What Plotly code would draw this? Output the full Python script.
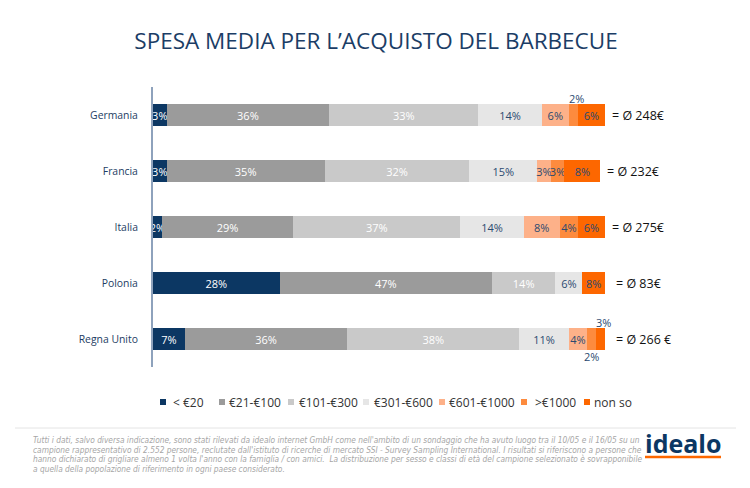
import plotly.graph_objects as go

# ---------------- data ----------------
countries = ["Germania", "Francia", "Italia", "Polonia", "Regna Unito"]
series = ["< €20", "€21-€100", "€101-€300", "€301-€600", "€601-€1000", ">€1000", "non so"]

lt20 = [3, 3, 2, 28, 7]
e21_100 = [36, 35, 29, 47, 36]
e101_300 = [33, 32, 37, 14, 38]
e301_600 = [14, 15, 14, 6, 11]
e601_1000 = [6, 3, 8, 0, 4]
gt1000 = [2, 3, 4, 0, 2]
non_so = [6, 8, 6, 5, 2]          # drawn bar widths
non_so_printed = [6, 8, 6, 8, 3]   # percentages printed on the picture

avg_labels = ["= Ø 248€", "= Ø 232€", "= Ø 275€", "= Ø 83€", "= Ø 266 €"]

footer_lines = [
    "Tutti i dati, salvo diversa indicazione, sono stati rilevati da idealo internet GmbH come nell'ambito di un sondaggio che ha avuto luogo tra il 10/05 e il 16/05 su un",
    "campione rappresentativo di 2.552 persone, reclutate dall'istituto di ricerche di mercato SSI - Survey Sampling International. I risultati si riferiscono a persone che",
    "hanno dichiarato di grigliare almeno 1 volta l'anno con la famiglia / con amici.  La distribuzione per sesso e classi di età del campione selezionato è sovrapponibile",
    "a quella della popolazione di riferimento in ogni paese considerato.",
]

values = [lt20, e21_100, e101_300, e301_600, e601_1000, gt1000, non_so]
printed = [lt20, e21_100, e101_300, e301_600, e601_1000, gt1000, non_so_printed]

# ---------------- style ----------------
colors = ["#0c3763", "#9b9b9b", "#c9c9c9", "#e6e6e6", "#fdb189", "#fd8b3e", "#fd6700"]
text_colors = ["#ffffff", "#ffffff", "#ffffff", "#2b4a70", "#2b4a70", "#2b4a70", "#2b4a70"]
# (series index, country index) -> label placed outside the bar
outside = {(5, 0): 1, (5, 4): -1, (6, 4): 1}

# page body has an 8px margin: figure is drawn offset by OFF in the window
OFF = 8
WIN_W, WIN_H = 750, 488
W, H = WIN_W - OFF, WIN_H - OFF
# plot area in window pixels
PX0, PX1, PY0, PY1 = 153, 605, 87, 367
L, R, T, B = PX0 - OFF, WIN_W - PX1, PY0 - OFF, WIN_H - PY1
PW, PH = PX1 - PX0, PY1 - PY0


def px2x(px):
    return (px - PX0) / PW


def py2y(py):
    return (PY1 - py) / PH


fig = go.Figure()
annotations = []
for si, name in enumerate(series):
    texts = []
    for ci in range(len(countries)):
        v = values[si][ci]
        if v == 0 or (si, ci) in outside:
            texts.append("")
        else:
            texts.append(f"{printed[si][ci]}%")
    fig.add_trace(go.Bar(
        name=name, y=countries, x=values[si], orientation="h",
        marker=dict(color=colors[si], line=dict(width=0)),
        text=texts, textposition="inside", insidetextanchor="middle",
        textangle=0, textfont=dict(color=text_colors[si], size=11, family="Open Sans"),
        showlegend=False, hoverinfo="skip", width=0.41,
    ))

# labels for tiny segments drawn outside the bar
for (si, ci), side in outside.items():
    start = sum(values[k][ci] for k in range(si))
    annotations.append(dict(
        x=start + values[si][ci] / 2, y=countries[ci], xref="x", yref="y",
        text=f"{printed[si][ci]}%", showarrow=False, yshift=17 * side,
        xshift=3 if side > 0 else 0,
        font=dict(size=11, color="#2b4a70", family="Open Sans"),
    ))

# averages at the end of each bar
for ci, c in enumerate(countries):
    total = sum(values[si][ci] for si in range(len(series)))
    annotations.append(dict(
        x=total, y=c, xref="x", yref="y", text=avg_labels[ci], showarrow=False,
        xanchor="left", xshift=5 if ci < 3 else 9,
        font=dict(size=12.5, color="#111111", family="Open Sans"),
    ))

# manual legend
legend_marker_px = [160, 219, 288, 363, 439, 521, 584]
legend_text_px = [171, 227, 297, 372, 447, 533, 592]
shapes = []
for si, name in enumerate(series):
    mx = legend_marker_px[si]
    shapes.append(dict(type="rect", xref="paper", yref="paper",
                       x0=px2x(mx), x1=px2x(mx + 6), y0=py2y(405), y1=py2y(399),
                       fillcolor=colors[si], line=dict(width=0)))
    annotations.append(dict(
        x=px2x(legend_text_px[si]), y=py2y(402), xref="paper", yref="paper",
        text=name, showarrow=False, xanchor="left", yanchor="middle",
        font=dict(size=12, color="#333333", family="Open Sans"),
    ))

# footer separator
shapes.append(dict(type="line", xref="paper", yref="paper",
                   x0=px2x(15), x1=px2x(736), y0=py2y(428), y1=py2y(428),
                   line=dict(color="#e4e4e4", width=1)))

# footer text
for i, line in enumerate(footer_lines):
    annotations.append(dict(
        x=px2x(31), y=py2y(440 + 9.6 * i), xref="paper", yref="paper",
        text=f"<i>{line}</i>", showarrow=False, xanchor="left", yanchor="middle",
        font=dict(size=8.3, color="#a6a6a6", family="Liberation Sans Narrow, DejaVu Sans Condensed, Open Sans"),
    ))

# idealo logo
annotations.append(dict(
    x=px2x(683), y=py2y(443), xref="paper", yref="paper", text="<b>idealo</b>",
    showarrow=False, xanchor="center", yanchor="middle",
    font=dict(size=25, color="#0c3763", family="Open Sans"),
))
shapes.append(dict(type="line", xref="paper", yref="paper",
                   x0=px2x(645), x1=px2x(721), y0=py2y(457), y1=py2y(457),
                   line=dict(color="#fd6700", width=2.5)))

fig.update_layout(
    width=W, height=H,
    margin=dict(l=L, r=R, t=T, b=B),
    barmode="stack",
    plot_bgcolor="white", paper_bgcolor="white",
    title=dict(text="SPESA MEDIA PER L’ACQUISTO DEL BARBECUE", x=(376 - OFF) / W, xanchor="center",
               y=1 - (41 - OFF) / H, yanchor="middle",
               font=dict(size=22.5, color="#1b3d66", family="Open Sans")),
    xaxis=dict(range=[0, 100], visible=False, fixedrange=True),
    yaxis=dict(autorange="reversed", showline=True, linecolor="#8ea2bc", linewidth=2,
               showgrid=False, zeroline=False, ticks="", ticklabelstandoff=11,
               tickfont=dict(size=10.4, color="#1d3d63", family="Open Sans")),
    uniformtext=dict(minsize=11, mode="show"),
    annotations=annotations, shapes=shapes,
    showlegend=False,
)

fig.write_html("out.html")
